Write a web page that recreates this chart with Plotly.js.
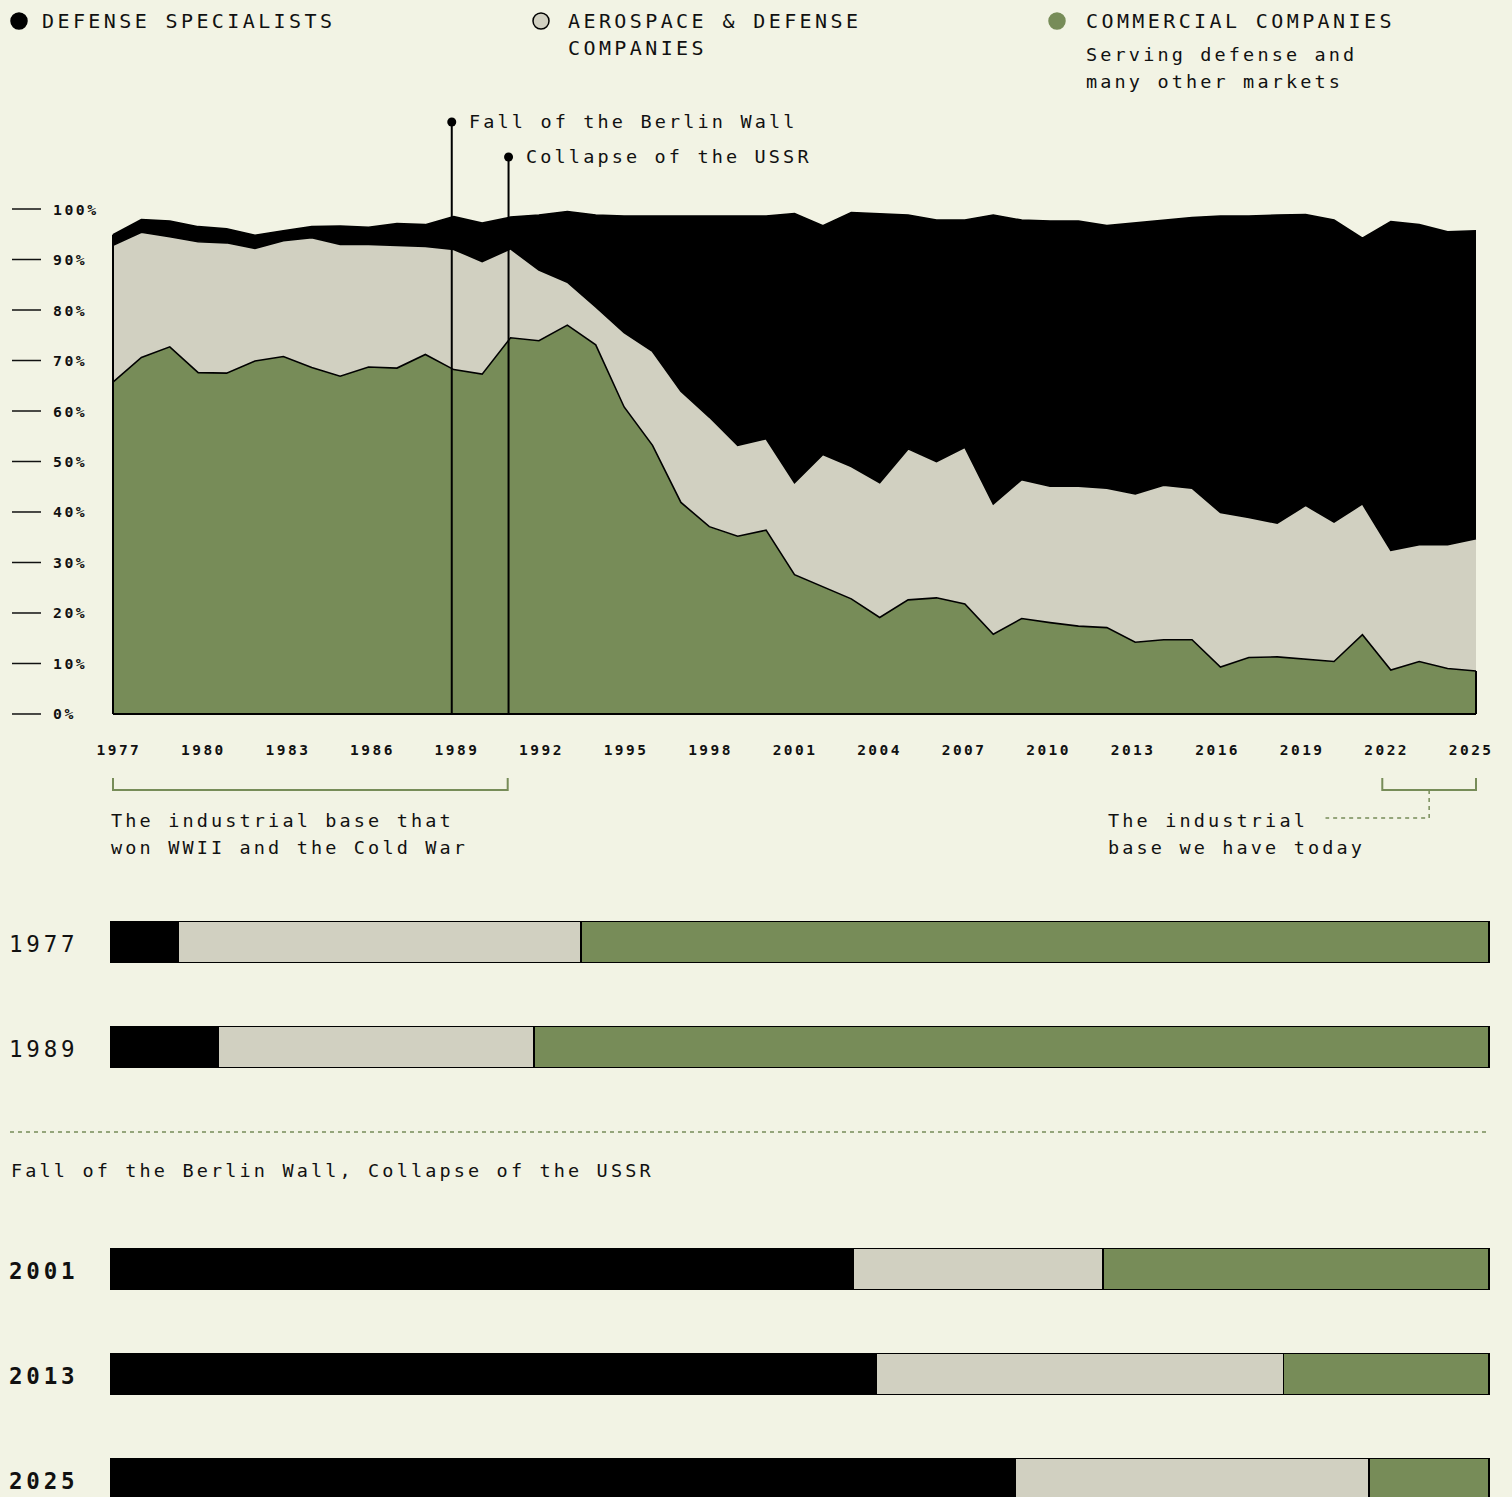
<!DOCTYPE html>
<html>
<head>
<meta charset="utf-8">
<script src="https://cdn.plot.ly/plotly-3.0.1.min.js"></script>
<style>
html, body { margin: 0; padding: 0; background: #F2F3E4; }
#chart { width: 1512px; height: 1497px; }
.js-plotly-plot .annotation-text,
.js-plotly-plot .xtick text,
.js-plotly-plot .x4tick text,
.js-plotly-plot .ytick text { letter-spacing: 0.17em; }
</style>
</head>
<body>
<div id="chart"></div>
<script>
// ---------------- DATA ----------------
const years = [1977,1978,1979,1980,1981,1982,1983,1984,1985,1986,1987,1988,1989,1990,1991,1992,1993,1994,1995,1996,1997,1998,1999,2000,2001,2002,2003,2004,2005,2006,2007,2008,2009,2010,2011,2012,2013,2014,2015,2016,2017,2018,2019,2020,2021,2022,2023,2024,2025];
// share of the industrial base (%), stacked from the bottom
const commercial = [65.7,70.6,72.7,67.6,67.5,69.9,70.8,68.6,66.9,68.7,68.5,71.2,68.2,67.3,74.5,73.9,77.0,73.1,60.8,53.2,41.9,37.1,35.2,36.4,27.6,25.2,22.8,19.1,22.6,23.0,21.8,15.8,18.9,18.1,17.4,17.1,14.2,14.7,14.7,9.3,11.2,11.3,10.9,10.4,15.7,8.7,10.4,9.0,8.5];
const aerospace  = [27.1,24.8,21.8,25.9,25.8,22.3,22.9,25.7,26.1,24.3,24.3,21.4,23.8,22.3,17.6,14.0,8.5,7.5,14.7,18.6,22.0,21.7,18.0,18.1,18.2,26.2,26.2,26.7,29.9,27.0,31.0,25.8,27.5,27.0,27.7,27.6,29.4,30.6,30.0,30.6,27.7,26.5,30.4,27.6,25.9,23.7,23.1,24.5,26.2];
const defense    = [2.1,2.5,3.1,3.0,2.8,2.6,2.0,2.2,3.6,3.4,4.3,4.3,6.5,7.6,6.3,10.9,14.0,18.2,23.1,26.8,34.7,39.8,45.4,44.1,53.3,45.3,50.3,53.2,46.3,47.8,45.0,57.2,51.4,52.5,52.5,52.0,53.6,52.5,53.6,58.7,59.7,61.0,57.6,59.8,52.6,65.1,63.4,62.0,61.0];

const xTickVals = [1977,1980,1983,1986,1989,1992,1995,1998,2001,2004,2007,2010,2013,2016,2019,2022,2025];
const yTickVals = [0,10,20,30,40,50,60,70,80,90,100];
const yTickText = ['0%','10%','20%','30%','40%','50%','60%','70%','80%','90%','100%'];

const eventYears  = [1989, 1991];
const eventLabels = ['Fall of the Berlin Wall', 'Collapse of the USSR'];

const seriesNames = ['DEFENSE SPECIALISTS', 'AEROSPACE & DEFENSE', 'COMMERCIAL COMPANIES'];

const barYears      = ['1977','1989','2001','2013','2025'];
const barDefense    = [4.9, 7.8, 53.9, 55.5, 65.6];
const barAerospace  = [29.2, 22.9, 18.1, 29.6, 25.7];
const barCommercial = [65.9, 69.3, 28.0, 14.9, 8.7];

// ---------------- STYLE / LAYOUT HELPERS ----------------
const W = 1512, H = 1497;
const px = v => v / W;
const py = v => 1 - v / H;
const BG = '#F2F3E4', GREEN = '#778C58', GRAY = '#D1D0C1', BLACK = '#000000', INK = '#111111';
const FONT = 'DejaVu Sans Mono, monospace';

const traces = [];
[
  {y: commercial, fill: GREEN},
  {y: aerospace, fill: GRAY},
  {y: defense, fill: BLACK}
].forEach(s => {
  traces.push({
    type: 'scatter', mode: 'lines', x: years, y: s.y,
    stackgroup: 'share', fillcolor: s.fill,
    line: {color: BLACK, width: 1.6},
    hoverinfo: 'skip', showlegend: false, xaxis: 'x', yaxis: 'y'
  });
});
// invisible carrier for the year-label axis
traces.push({type: 'scatter', mode: 'lines', x: [years[0], years[years.length - 1]], y: [0, 0],
  line: {width: 0, color: 'rgba(0,0,0,0)'}, hoverinfo: 'skip', showlegend: false, xaxis: 'x4', yaxis: 'y'});

// horizontal 100% bars, split into before / after the end of the Cold War
const barGroups = [{idx: [0, 1], yaxis: 'y2'}, {idx: [2, 3, 4], yaxis: 'y3'}];
barGroups.forEach(g => {
  [[barDefense, BLACK], [barAerospace, GRAY], [barCommercial, GREEN]].forEach(([vals, col]) => {
    traces.push({
      type: 'bar', orientation: 'h',
      x: g.idx.map(i => vals[i]), y: g.idx.map(i => barYears[i]),
      marker: {color: col, line: {color: BLACK, width: 1.5}},
      xaxis: 'x2', yaxis: g.yaxis, hoverinfo: 'skip', showlegend: false
    });
  });
});

const shapes = [];
const annotations = [];
const note = (o) => annotations.push(Object.assign({showarrow: false, xanchor: 'left', align: 'left', yanchor: 'middle'}, o));

// y tick dashes + labels
yTickVals.forEach((v, i) => {
  shapes.push({type: 'line', xref: 'paper', yref: 'y', x0: px(12), x1: px(41), y0: v, y1: v,
    line: {color: INK, width: 1.5}});
  note({xref: 'paper', yref: 'y', x: px(51), y: v, text: yTickText[i],
    font: {family: FONT, size: 14.8, color: INK, weight: 'bold'}});
});

// baseline and edges of the stacked area
const last = years.length - 1;
shapes.push({type: 'line', xref: 'x', yref: 'y', x0: years[0], x1: years[last], y0: 0, y1: 0,
  line: {color: BLACK, width: 2.2}, layer: 'above'});
shapes.push({type: 'line', xref: 'x', yref: 'y', x0: years[0], x1: years[0], y0: 0,
  y1: commercial[0] + aerospace[0] + defense[0], line: {color: BLACK, width: 2}, layer: 'above'});
shapes.push({type: 'line', xref: 'x', yref: 'y', x0: years[last], x1: years[last], y0: 0,
  y1: commercial[last], line: {color: BLACK, width: 2}, layer: 'above'});

// event markers
const eventTopPx = [122, 157];
eventYears.forEach((yr, i) => {
  shapes.push({type: 'line', xref: 'x', yref: 'paper', x0: yr - 0.07, x1: yr - 0.07, y0: py(715), y1: py(eventTopPx[i]),
    line: {color: BLACK, width: 2}, layer: 'above'});
  shapes.push({type: 'circle', xref: 'x', yref: 'paper', xsizemode: 'pixel', ysizemode: 'pixel',
    xanchor: yr - 0.07, yanchor: py(eventTopPx[i]), x0: -4.5, x1: 4.5, y0: -4.5, y1: 4.5,
    fillcolor: BLACK, line: {color: BLACK, width: 0}, layer: 'above'});
  note({xref: 'x', yref: 'paper', x: yr - 0.07, y: py(eventTopPx[i] - 1), xshift: 15,
    text: eventLabels[i], font: {family: FONT, size: 18.5, color: INK}});
});

// legend
const legendX = [19, 541, 1057];
const legendFill = [BLACK, GRAY, GREEN];
const legendLine = [BLACK, BLACK, GREEN];
legendX.forEach((cx, i) => {
  shapes.push({type: 'circle', xref: 'paper', yref: 'paper',
    x0: px(cx - 8), x1: px(cx + 8), y0: py(21 + 8), y1: py(21 - 8),
    fillcolor: legendFill[i], line: {color: legendLine[i], width: 1.5}});
});
const txt = (x, y, t, size) => note({xref: 'paper', yref: 'paper', x: px(x), y: py(y), text: t,
  font: {family: FONT, size: size, color: INK}});
txt(40, 21, seriesNames[0], 20);
txt(566, 21, 'AEROSPACE &amp; DEFENSE', 20);
txt(566, 48, 'COMPANIES', 20);
txt(1084, 21, seriesNames[2], 20);
txt(1084, 55, 'Serving defense and', 18.5);
txt(1084, 82, 'many other markets', 18.5);

// brackets under the x axis
shapes.push({type: 'path', xref: 'x', yref: 'paper',
  path: `M 1977,${py(778)} L 1977,${py(790)} L 1990.9,${py(790)} L 1990.9,${py(778)}`,
  line: {color: GREEN, width: 2}});
shapes.push({type: 'path', xref: 'x', yref: 'paper',
  path: `M 2021.7,${py(778)} L 2021.7,${py(790)} L 2025,${py(790)} L 2025,${py(778)}`,
  line: {color: GREEN, width: 2}});
shapes.push({type: 'path', xref: 'x', yref: 'paper',
  path: `M 2023.35,${py(790)} L 2023.35,${py(818)} L 2019.7,${py(818)}`,
  line: {color: GREEN, width: 1.5, dash: '4px,4px'}});
txt(109, 820, 'The industrial base that', 18.5);
txt(109, 847, 'won WWII and the Cold War', 18.5);
txt(1106, 820, 'The industrial', 18.5);
txt(1106, 847, 'base we have today', 18.5);

// separator
shapes.push({type: 'line', xref: 'paper', yref: 'paper', x0: px(10), x1: px(1490), y0: py(1132), y1: py(1132),
  line: {color: GREEN, width: 1.5, dash: '4px,4px'}});
txt(9, 1170, eventLabels.join(', '), 18.5);

// bar labels
barGroups.forEach(g => {
  g.idx.forEach((i, k) => {
    note({xref: 'paper', yref: g.yaxis, x: px(7), y: k, yshift: -2, text: barYears[i],
      font: {family: FONT, size: 22.5, color: INK, weight: g.yaxis === 'y3' ? 'bold' : 'normal'}});
  });
});

const layout = {
  width: W, height: H,
  margin: {l: 0, r: 0, t: 0, b: 0, pad: 0},
  paper_bgcolor: BG, plot_bgcolor: 'rgba(0,0,0,0)',
  showlegend: false, barmode: 'stack', bargap: 0.61,
  font: {family: FONT, color: INK},
  xaxis: {
    domain: [px(110.16), px(1478.84)], range: [1976.9, 2025.1], anchor: 'y',
    showticklabels: false, ticks: '',
    showgrid: false, zeroline: false, showline: false, fixedrange: true
  },
  // axis carrying the year labels
  xaxis4: {
    domain: [px(116.1), px(1474.0)], range: [1976.9, 2025.1], anchor: 'y',
    tickvals: xTickVals, ticktext: xTickVals.map(String),
    ticks: 'outside', ticklen: 18, tickcolor: 'rgba(0,0,0,0)',
    tickfont: {family: FONT, size: 14.5, color: INK, weight: 'bold'},
    showgrid: false, zeroline: false, showline: false, fixedrange: true
  },
  yaxis: {
    domain: [0.51968, 0.86376], range: [-1, 101], anchor: 'x',
    showticklabels: false, ticks: '', showgrid: false, zeroline: false, showline: false, fixedrange: true
  },
  xaxis2: {
    domain: [px(109), px(1491)], range: [-0.145, 100.145], anchor: 'y2',
    visible: false, showgrid: false, zeroline: false, fixedrange: true
  },
  yaxis2: {
    domain: [py(1099.5), py(889.5)], type: 'category', categoryarray: barYears.slice(0, 2),
    range: [1.5, -0.5], anchor: 'x2', visible: false, showgrid: false, fixedrange: true
  },
  yaxis3: {
    domain: [0, py(1216.5)], type: 'category', categoryarray: barYears.slice(2),
    range: [2.171, -0.5], anchor: 'x2', visible: false, showgrid: false, fixedrange: true
  },
  shapes: shapes,
  annotations: annotations
};

Plotly.newPlot('chart', traces, layout, {displayModeBar: false, staticPlot: true});
</script>
</body>
</html>
